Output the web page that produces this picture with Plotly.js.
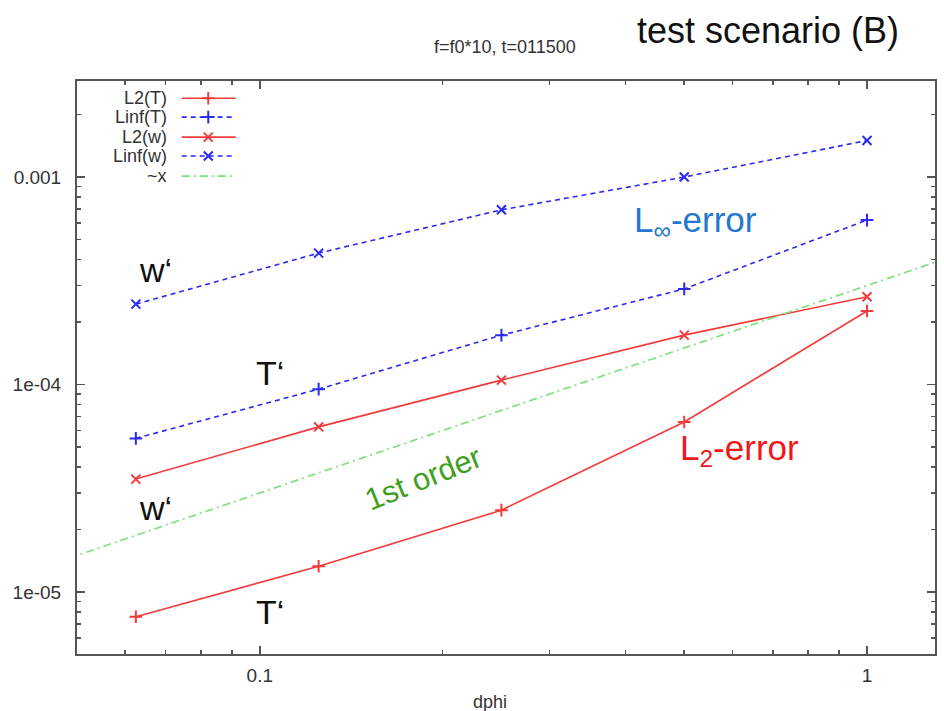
<!DOCTYPE html>
<html>
<head>
<meta charset="utf-8">
<script src="https://cdn.plot.ly/plotly-3.0.1.min.js"></script>
<style>
  html, body { margin: 0; padding: 0; background: #fff; }
  #chart { width: 944px; height: 711px; }
</style>
</head>
<body>
<div id="chart"></div>
<script>
// Grid spacing dphi and measured error norms
const dphi   = [0.0625, 0.125, 0.25, 0.5, 1];
const l2T    = [7.6e-6, 1.33e-5, 2.48e-5, 6.6e-5, 2.26e-4];
const linfT  = [5.5e-5, 9.5e-5, 1.73e-4, 2.89e-4, 6.2e-4];
const l2w    = [3.5e-5, 6.25e-5, 1.05e-4, 1.73e-4, 2.65e-4];
const linfw  = [2.44e-4, 4.3e-4, 6.95e-4, 1.0e-3, 1.5e-3];

// First-order reference line (~x)
const refX = [0.04, 1.5];
const refY = [1.2e-5, 4.5e-4];

// Axis tick labels
const xTickVals = [0.1, 1];
const xTickText = ['0.1', '1'];
const yTickVals = [1e-5, 1e-4, 1e-3];
const yTickText = ['1e-05', '1e-04', '0.001'];
const xMinor = [0.06, 0.07, 0.08, 0.09, 0.2, 0.3, 0.4, 0.5, 0.6, 0.7, 0.8, 0.9];
const yMinor = [6e-6, 7e-6, 8e-6, 9e-6,
                2e-5, 3e-5, 4e-5, 5e-5, 6e-5, 7e-5, 8e-5, 9e-5,
                2e-4, 3e-4, 4e-4, 5e-4, 6e-4, 7e-4, 8e-4, 9e-4,
                2e-3, 3e-3];

const legendLabels = ['L2(T)', 'Linf(T)', 'L2(w)', 'Linf(w)', '~x'];

const RED = '#f23a3a';
const BLUE = '#2a2af0';
const GREEN = '#77e077';
const FONT = '"Liberation Sans", Arial, Helvetica, sans-serif';

const styles = [
  {color: RED,  dash: 'solid',   symbol: 'cross-thin-open', size: 9},
  {color: BLUE, dash: '5px,4px', symbol: 'cross-thin-open', size: 9},
  {color: RED,  dash: 'solid',   symbol: 'x-thin-open',     size: 9},
  {color: BLUE, dash: '5px,4px', symbol: 'x-thin-open',     size: 9},
  {color: GREEN, dash: '8px,4px,2px,4px', symbol: null, size: 0}
];

function series(y, s) {
  return {
    x: dphi, y: y, type: 'scatter', mode: 'lines+markers',
    line: {color: s.color, width: 1.6, dash: s.dash},
    marker: {symbol: s.symbol, size: s.size, color: s.color, line: {color: s.color, width: 2}},
    showlegend: false, hoverinfo: 'x+y'
  };
}

const traces = [
  series(l2T, styles[0]),
  series(linfT, styles[1]),
  series(l2w, styles[2]),
  series(linfw, styles[3]),
  {
    x: refX, y: refY, type: 'scatter', mode: 'lines',
    line: {color: GREEN, width: 1.6, dash: styles[4].dash},
    showlegend: false, hoverinfo: 'skip'
  }
];

// Key in the upper-left corner: labels on the left, line samples on the right
const keyRows = [0.970, 0.937, 0.902, 0.869, 0.834];
const keyX0 = 0.122, keyX1 = 0.185, keyMid = 0.153, keyText = 0.107;
const annotations = [];
legendLabels.forEach((lab, i) => {
  const s = styles[i];
  traces.push({
    x: [keyX0, keyX1], y: [keyRows[i], keyRows[i]], xaxis: 'x2', yaxis: 'y2',
    type: 'scatter', mode: 'lines',
    line: {color: s.color, width: 1.6, dash: s.dash},
    showlegend: false, hoverinfo: 'skip'
  });
  if (s.symbol) {
    traces.push({
      x: [keyMid], y: [keyRows[i]], xaxis: 'x2', yaxis: 'y2',
      type: 'scatter', mode: 'markers',
      marker: {symbol: s.symbol, size: s.size, color: s.color, line: {color: s.color, width: 2}},
      showlegend: false, hoverinfo: 'skip'
    });
  }
  annotations.push({
    text: lab, xref: 'paper', yref: 'paper', x: keyText, y: keyRows[i],
    xanchor: 'right', yanchor: 'middle', showarrow: false,
    font: {family: FONT, size: 18, color: '#333'}
  });
});

function note(text, x, y, size, color, opts) {
  return Object.assign({
    text: text, xref: 'paper', yref: 'paper', x: x, y: y,
    xanchor: 'center', yanchor: 'middle', showarrow: false,
    font: {family: FONT, size: size, color: color}
  }, opts || {});
}

annotations.push(
  note('f=f0*10, t=011500', 0.499, 1.059, 18, '#333'),
  note('test scenario (B)', 0.805, 1.089, 36, '#111'),
  note('dphi', 0.481, -0.084, 18, '#333'),
  note('w\u2018', 0.091, 0.670, 34, '#111'),
  note('T\u2018', 0.225, 0.490, 34, '#111'),
  note('w\u2018', 0.091, 0.255, 34, '#111'),
  note('T\u2018', 0.225, 0.073, 34, '#111'),
  note('L<sub>\u221e</sub>-error', 0.647, 0.754, 35, '#2377cf', {xanchor: 'left'}),
  note('L<sub>2</sub>-error', 0.700, 0.356, 35, '#f01818', {xanchor: 'left'}),
  note('1st order', 0.403, 0.307, 31, '#3f9f22', {textangle: -22})
);

const axisCommon = {
  type: 'log',
  showgrid: false, zeroline: false,
  showline: true, linecolor: '#555', linewidth: 2, mirror: 'allticks',
  ticks: 'inside', ticklen: 8, tickwidth: 1.5, tickcolor: '#555',
  tickmode: 'array',
  tickfont: {family: FONT, size: 19, color: '#333'}
};

const layout = {
  width: 944, height: 711,
  margin: {l: 77, r: 9, t: 81, b: 57},
  paper_bgcolor: '#fff', plot_bgcolor: '#fff',
  showlegend: false,
  xaxis: Object.assign({}, axisCommon, {
    range: [Math.log10(0.05), Math.log10(1.294)],
    tickvals: xTickVals, ticktext: xTickText,
    ticklabelstandoff: 3,
    minor: {ticks: 'inside', ticklen: 4, tickwidth: 1.5, tickcolor: '#555',
            tickmode: 'array', tickvals: xMinor, showgrid: false}
  }),
  yaxis: Object.assign({}, axisCommon, {
    range: [-5.299, -2.537],
    tickvals: yTickVals, ticktext: yTickText,
    ticklabelstandoff: 10,
    minor: {ticks: 'inside', ticklen: 4, tickwidth: 1.5, tickcolor: '#555',
            tickmode: 'array', tickvals: yMinor, showgrid: false}
  }),
  xaxis2: {overlaying: 'x', range: [0, 1], visible: false, fixedrange: true},
  yaxis2: {overlaying: 'y', range: [0, 1], visible: false, fixedrange: true},
  annotations: annotations
};

Plotly.newPlot('chart', traces, layout, {staticPlot: true, displayModeBar: false});
</script>
</body>
</html>
